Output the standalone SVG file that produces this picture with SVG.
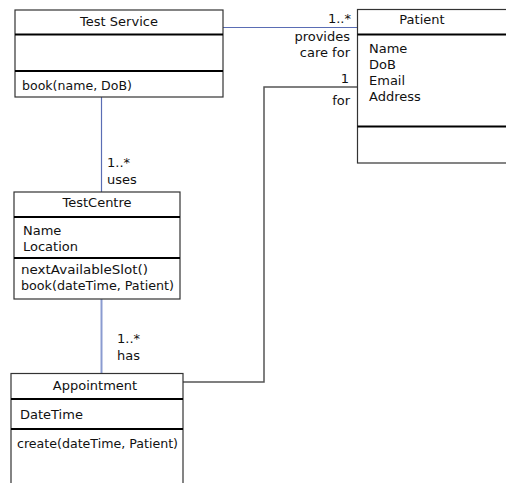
<svg xmlns="http://www.w3.org/2000/svg" width="506" height="483" viewBox="0 0 506 483">
  <style>
    text { font-family: "Lucida Grande", "DejaVu Sans", sans-serif; font-size: 13px; fill: #111; }
    .title { text-anchor: middle; }
    .end { text-anchor: end; }
    .box { fill: #fff; stroke: #333; stroke-width: 1.2; }
    .sep { stroke: #000; stroke-width: 2.2; }
    .assoc { fill: none; stroke: #5a6db4; stroke-width: 1.2; }
    .assoc-light { fill: none; stroke: #8a9bd0; stroke-width: 2; }
    .assoc-grey { fill: none; stroke: #555; stroke-width: 1.5; }
  </style>

  <rect width="506" height="483" fill="#fff"/>

  <!-- associations -->
  <g id="connectors">
    <line class="assoc" x1="223" y1="27.5" x2="357" y2="27.5"/>
    <line class="assoc" x1="101.5" y1="97" x2="101.5" y2="192"/>
    <line class="assoc-light" x1="101.5" y1="299" x2="101.5" y2="373"/>
    <polyline class="assoc-grey" points="357,87 264,87 264,382 183,382"/>

    <text class="end" x="351" y="23">1..*</text>
    <text class="end" x="350" y="41">provides</text>
    <text class="end" x="350" y="57">care for</text>
    <text class="end" x="349" y="83">1</text>
    <text class="end" x="350" y="105">for</text>

    <text x="107" y="167">1..*</text>
    <text x="107" y="184">uses</text>

    <text x="117" y="343">1..*</text>
    <text x="117" y="360">has</text>
  </g>

  <!-- Test Service -->
  <g id="test-service">
    <rect class="box" x="15" y="10" width="208" height="87"/>
    <line class="sep" x1="15" y1="34.5" x2="223" y2="34.5"/>
    <line class="sep" x1="15" y1="71" x2="223" y2="71"/>
    <text class="title" x="119" y="26">Test Service</text>
    <text x="22" y="90" textLength="110" lengthAdjust="spacingAndGlyphs">book(name, DoB)</text>
  </g>

  <!-- Patient -->
  <g id="patient">
    <rect class="box" x="357.5" y="9.5" width="160" height="153.5"/>
    <line class="sep" x1="357.5" y1="34.5" x2="506" y2="34.5"/>
    <line class="sep" x1="357.5" y1="126.5" x2="506" y2="126.5"/>
    <text class="title" x="422" y="24">Patient</text>
    <text x="369" y="53">Name</text>
    <text x="369" y="69">DoB</text>
    <text x="369" y="85">Email</text>
    <text x="369" y="101">Address</text>
  </g>

  <!-- TestCentre -->
  <g id="test-centre">
    <rect class="box" x="14" y="192" width="166" height="107"/>
    <line class="sep" x1="14" y1="217" x2="180" y2="217"/>
    <line class="sep" x1="14" y1="258" x2="180" y2="258"/>
    <text class="title" x="97" y="207">TestCentre</text>
    <text x="23" y="235">Name</text>
    <text x="23" y="251">Location</text>
    <text x="21" y="274" textLength="127" lengthAdjust="spacingAndGlyphs">nextAvailableSlot()</text>
    <text x="21" y="290" textLength="153" lengthAdjust="spacingAndGlyphs">book(dateTime, Patient)</text>
  </g>

  <!-- Appointment -->
  <g id="appointment">
    <rect class="box" x="11" y="373.5" width="172" height="120"/>
    <line class="sep" x1="11" y1="399" x2="183" y2="399"/>
    <line class="sep" x1="11" y1="429" x2="183" y2="429"/>
    <text class="title" x="95" y="390">Appointment</text>
    <text x="20" y="419">DateTime</text>
    <text x="17" y="448" textLength="161" lengthAdjust="spacingAndGlyphs">create(dateTime, Patient)</text>
  </g>
</svg>
